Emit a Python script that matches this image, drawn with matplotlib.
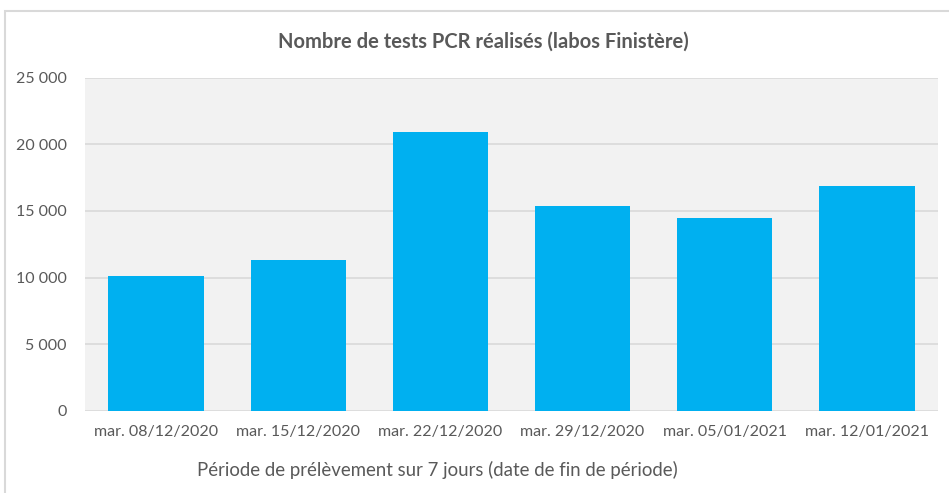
import matplotlib
matplotlib.use('Agg')
import matplotlib.pyplot as plt
from matplotlib.patches import Rectangle

# données
dates = ['mar. 08/12/2020', 'mar. 15/12/2020', 'mar. 22/12/2020',
         'mar. 29/12/2020', 'mar. 05/01/2021', 'mar. 12/01/2021']
tests = [10080, 11340, 20950, 15400, 14450, 16900]
yticks = [0, 5000, 10000, 15000, 20000, 25000]

plt.rcParams['font.family'] = ['Lato', 'DejaVu Sans']
gris = '#595959'

fig = plt.figure(figsize=(9.49, 4.93), dpi=100)
fig.patches.append(Rectangle((5/949, -0.1), 1, 1.1 - 11/493, transform=fig.transFigure,
                             fill=False, edgecolor='#d9d9d9', linewidth=1.5))
ax = fig.add_axes([85/949, 1 - 410.7/493, (938-85)/949, (410.7-77.7)/493])
ax.set_facecolor('#f2f2f2')

x = range(len(dates))
ax.bar(x, tests, width=0.67, color='#00b0f0', zorder=3)
ax.set_xlim(-0.5, len(dates) - 0.5)
ax.set_ylim(0, 25000)
ax.set_yticks(yticks)
ax.set_yticklabels([f'{v:,}'.replace(',', ' ') for v in yticks])
ax.set_xticks(list(x))
ax.set_xticklabels(dates)
ax.grid(axis='y', color='#d9d9d9', linewidth=1.2, zorder=1)
for s in ax.spines.values():
    s.set_visible(False)
ax.tick_params(length=0, colors=gris, labelsize=11.5)
ax.tick_params(axis='y', pad=13)
ax.tick_params(axis='x', pad=10)

fig.text(483/949, 1 - 42/493, 'Nombre de tests PCR réalisés (labos Finistère)',
         ha='center', va='center', fontsize=14.5, fontweight='bold', color=gris)
fig.text(437/949, 1 - 470/493, 'Période de prélèvement sur 7 jours (date de fin de période)',
         ha='center', va='center', fontsize=13.4, color=gris)

fig.savefig('out.png', dpi=100)
